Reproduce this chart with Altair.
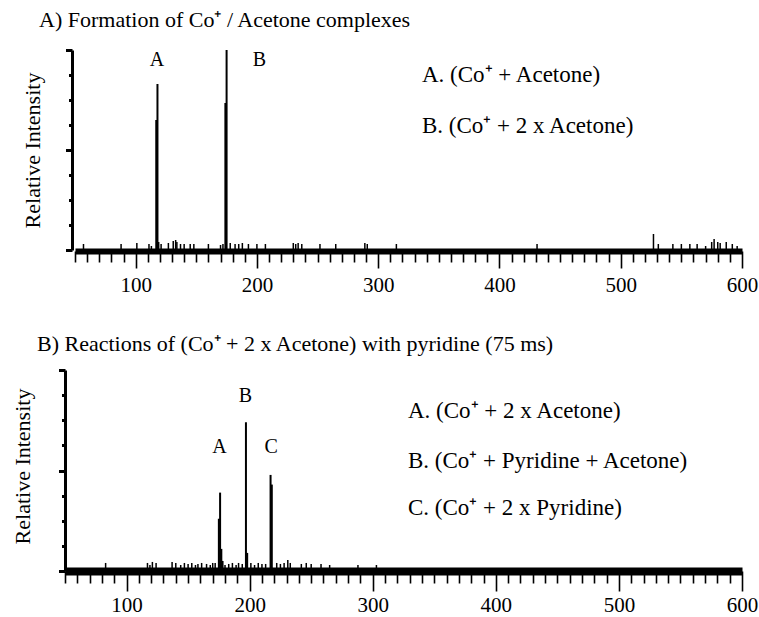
import altair as alt
import pandas as pd

# ---------------- data ----------------
a_peak_mz = [117, 118, 174, 175]
a_peak_int = [0.65, 0.83, 0.735, 1.0]
a_noise_mz = [57, 88, 101, 111, 113, 119, 121, 127, 131, 133, 134, 137, 140, 145, 148,
              160, 170, 172, 178, 182, 185, 188, 193, 200, 207, 230, 232, 234, 237, 252,
              265, 289, 291, 315, 431, 527, 531, 543, 550, 557, 563, 570, 575, 577, 580,
              582, 587, 592, 596]
a_noise_int = [0.03, 0.03, 0.035, 0.03, 0.02, 0.04, 0.03, 0.035, 0.045, 0.05, 0.04, 0.03, 0.03, 0.03, 0.03,
               0.03, 0.025, 0.03, 0.035, 0.03, 0.03, 0.035, 0.03, 0.03, 0.03, 0.035, 0.03, 0.035, 0.03, 0.03,
               0.03, 0.035, 0.03, 0.03, 0.03, 0.08, 0.03, 0.03, 0.03, 0.03, 0.03, 0.02, 0.04, 0.055, 0.04,
               0.035, 0.04, 0.03, 0.02]
a_label_text = ["A", "B"]
a_label_mz = [117.5, 202]
a_label_int = [0.92, 0.92]
a_title = "A) Formation of Co\u207a / Acetone complexes"
a_legend = ["A. (Co\u207a + Acetone)", "B. (Co\u207a + 2 x Acetone)"]

b_peak_mz = [175, 176, 177, 178, 197, 198, 217, 218]
b_peak_int = [0.26, 0.39, 0.11, 0.05, 0.74, 0.09, 0.478, 0.43]
b_noise_mz = [83, 117, 119, 121, 124, 137, 140, 144, 147, 150, 153, 156, 158, 161, 165,
              168, 170, 172, 180, 183, 186, 189, 191, 194, 201, 204, 207, 210, 213, 222,
              225, 228, 231, 233, 242, 246, 250, 258, 265, 288, 303]
b_noise_int = [0.04, 0.04, 0.03, 0.045, 0.04, 0.045, 0.04, 0.03, 0.04, 0.035, 0.04, 0.03, 0.035, 0.04, 0.035,
               0.03, 0.04, 0.04, 0.03, 0.035, 0.04, 0.03, 0.04, 0.035, 0.04, 0.03, 0.04, 0.035, 0.035, 0.04,
               0.035, 0.04, 0.055, 0.04, 0.035, 0.04, 0.035, 0.035, 0.03, 0.03, 0.03]
b_label_text = ["A", "B", "C"]
b_label_mz = [175.5, 196.5, 217.5]
b_label_int = [0.587, 0.84, 0.587]
b_title = "B) Reactions of (Co\u207a + 2 x Acetone) with pyridine (75 ms)"
b_legend = ["A. (Co\u207a + 2 x Acetone)", "B. (Co\u207a + Pyridine + Acetone)", "C. (Co\u207a + 2 x Pyridine)"]

y_title = "Relative Intensity"
x_minor = [50, 60, 70, 80, 90, 110, 120, 130, 140, 150, 160, 170, 180, 190, 210, 220, 230, 240, 250,
           260, 270, 280, 290, 310, 320, 330, 340, 350, 360, 370, 380, 390, 410, 420, 430, 440,
           450, 460, 470, 480, 490, 510, 520, 530, 540, 550, 560, 570, 580, 590]
x_major = [100, 200, 300, 400, 500, 600]
y_minor = [0.125, 0.25, 0.375, 0.625, 0.75, 0.875]
y_major = [0, 0.5, 1.0]

FONT = "Liberation Serif"


def panel(peak_mz, peak_int, noise_mz, noise_int, lab_t, lab_mz, lab_int,
          xrange, yrange, x_off, y_off, band, tmin, tmaj, lpad, tx, ty):
    xs = alt.Scale(domain=[50, 600], range=xrange, nice=False, zero=False)
    ys = alt.Scale(domain=[0, 1], range=yrange, nice=False, zero=False)
    anchor = pd.DataFrame({"mz": [50, 600], "v": [0, 1]})
    # group 1: domain lines + short (minor) ticks + y title
    xaxis = alt.Axis(values=x_minor, orient="bottom", offset=x_off, domainWidth=band,
                     domainColor="black", tickColor="black", tickWidth=1.6, tickSize=tmin,
                     labels=False, title=None, grid=False)
    yaxis = alt.Axis(values=y_minor, orient="left", offset=y_off, domainWidth=3,
                     domainColor="black", tickColor="black", tickWidth=3, tickSize=3.5,
                     labels=False, title=y_title, titleFont=FONT, titleFontSize=22,
                     titleFontWeight="normal", titleColor="black", titleX=tx, titleY=ty,
                     titleAngle=270, titleBaseline="middle", titleAlign="center", grid=False)
    minor = alt.Chart(anchor).mark_point(opacity=0).encode(
        x=alt.X("mz:Q", scale=xs, axis=xaxis),
        y=alt.Y("v:Q", scale=ys, axis=yaxis))
    # group 2: long (major) ticks + tick labels
    xaxis2 = alt.Axis(values=x_major, orient="bottom", offset=x_off, domain=False,
                      tickColor="black", tickWidth=1.6, tickSize=tmaj,
                      labelFont=FONT, labelFontSize=21, labelColor="black", labelPadding=lpad,
                      labelOverlap=False, labelFlush=False, title=None, grid=False)
    yaxis2 = alt.Axis(values=y_major, orient="left", offset=y_off, domain=False,
                      tickColor="black", tickWidth=3, tickSize=6.5,
                      labels=False, title=None, grid=False)
    major = alt.Chart(anchor).mark_point(opacity=0).encode(
        x=alt.X("mz:Q", scale=xs, axis=xaxis2),
        y=alt.Y("v:Q", scale=ys, axis=yaxis2))
    # group 3: spectrum
    noise = alt.Chart(pd.DataFrame({"mz": noise_mz, "v": noise_int})).mark_rule(
        color="black", strokeWidth=1.5).encode(
        x=alt.X("mz:Q", scale=xs, axis=None),
        y=alt.Y("v:Q", scale=ys, axis=None),
        y2=alt.datum(0))
    peaks = alt.Chart(pd.DataFrame({"mz": peak_mz, "v": peak_int})).mark_rule(
        color="black", strokeWidth=2).encode(
        x=alt.X("mz:Q", scale=xs, axis=None),
        y=alt.Y("v:Q", scale=ys, axis=None),
        y2=alt.datum(0))
    labels = alt.Chart(pd.DataFrame({"mz": lab_mz, "v": lab_int, "t": lab_t})).mark_text(
        font=FONT, fontSize=20, color="black", align="center", baseline="alphabetic").encode(
        x=alt.X("mz:Q", scale=xs, axis=None),
        y=alt.Y("v:Q", scale=ys, axis=None),
        text="t:N")
    return [minor, major, alt.layer(noise, peaks, labels)]


pa = panel(a_peak_mz, a_peak_int, a_noise_mz, a_noise_int, a_label_text, a_label_mz, a_label_int,
           [75, 742], [250, 50], -366, -72, 6, 11, 17, 6, -40, 150)
pb = panel(b_peak_mz, b_peak_int, b_noise_mz, b_noise_int, b_label_text, b_label_mz, b_label_int,
           [65, 742], [571, 370], -46, -65, 8, 12, 20, 3, -43, 466)


def text(s, px, py, size):
    return alt.Chart(pd.DataFrame({"t": [s]})).mark_text(
        font=FONT, fontSize=size, color="black", align="left", baseline="alphabetic").encode(
        x=alt.value(px), y=alt.value(py), text="t:N")


texts = [
    text(a_title, 39, 27, 22),
    text(a_legend[0], 422, 82, 23),
    text(a_legend[1], 422, 133, 23),
    text(b_title, 37, 351, 22),
    text(b_legend[0], 408, 418, 23),
    text(b_legend[1], 408, 468, 23),
    text(b_legend[2], 408, 515, 23),
]

chart = alt.layer(*pa, *pb, *texts).resolve_scale(
    x="independent", y="independent").resolve_axis(
    x="independent", y="independent").properties(
    width=759, height=617, padding=0,
    autosize=alt.AutoSizeParams(type="none"),
    background="white").configure_view(stroke=None)

chart.save("out.html", embed_options={"renderer": "svg", "actions": False})
